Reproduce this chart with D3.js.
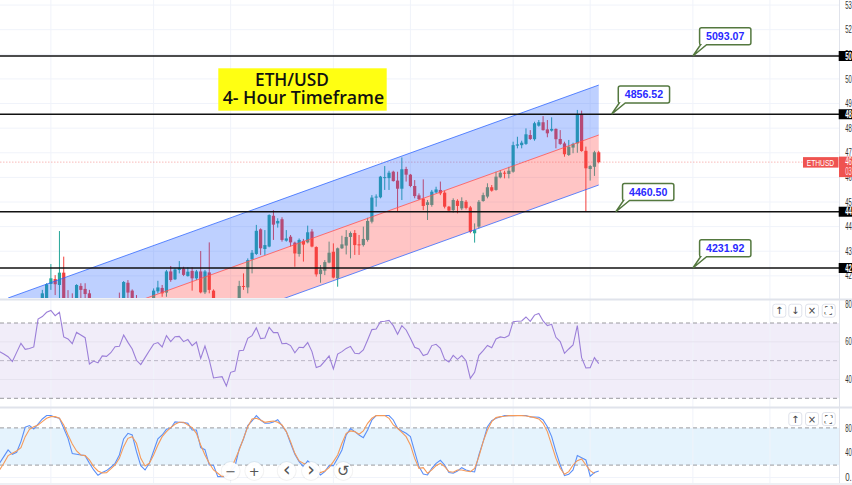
<!DOCTYPE html>
<html><head><meta charset="utf-8">
<script src="https://cdn.jsdelivr.net/npm/d3@7"></script>
<style>html,body{margin:0;padding:0;background:#fff;overflow:hidden}svg{display:block}text{font-family:"Liberation Sans",Arial,sans-serif}</style>
</head><body><svg id="c" width="852" height="485"></svg>
<script>
const opens=[4089,4089,4167,4187,4163,4213,4095,4095,4088,4159,4147,4129,4085,4075,4065,4080,4070,4090,4100,4082,4172,4140,4090,4070,4085,4075,4075,4137,4151,4132,4218,4186,4224,4229,4199,4220,4190,4218,4133,4214,4140,4075,4090,4070,4080,4090,4082,4159,4153,4267,4289,4389,4309,4319,4444,4413,4430,4343,4359,4335,4289,4342,4336,4380,4317,4207,4221,4254,4298,4190,4312,4323,4358,4374,4328,4325,4346,4420,4518,4519,4599,4597,4623,4587,4554,4634,4611,4565,4527,4514,4488,4488,4539,4549,4538,4481,4467,4505,4474,4501,4478,4373,4400,4504,4522,4560,4549,4600,4619,4614,4623,4729,4731,4736,4772,4755,4810,4824,4795,4790,4797,4756,4738,4691,4721,4738,4857,4708,4634,4643,4702];
const highs=[4143,4170,4248,4203,4382,4278,4142,4129,4166,4170,4170,4143,4098,4090,4085,4095,4095,4100,4132,4179,4183,4145,4122,4095,4098,4100,4149,4180,4163,4224,4240,4231,4260,4237,4235,4235,4224,4301,4224,4336,4145,4095,4100,4090,4098,4100,4180,4210,4271,4305,4407,4393,4386,4450,4467,4434,4438,4386,4366,4339,4352,4350,4404,4390,4320,4244,4264,4339,4332,4315,4363,4386,4380,4386,4366,4400,4436,4528,4531,4606,4646,4627,4627,4623,4681,4643,4614,4589,4535,4592,4508,4549,4562,4583,4546,4484,4515,4511,4519,4508,4484,4413,4508,4538,4576,4569,4623,4630,4627,4643,4745,4765,4749,4799,4792,4826,4833,4849,4833,4844,4799,4792,4745,4752,4741,4874,4871,4725,4650,4708,4708];
const lows=[4082,4075,4143,4122,4088,4068,4060,4060,4082,4102,4102,4082,4060,4055,4045,4060,4055,4070,4070,4075,4095,4065,4060,4050,4060,4065,4060,4129,4115,4115,4176,4183,4210,4199,4197,4140,4183,4129,4126,4129,4065,4055,4065,4050,4065,4075,4070,4143,4129,4210,4285,4285,4285,4316,4346,4396,4339,4339,4319,4237,4278,4258,4332,4316,4197,4172,4203,4251,4190,4156,4309,4287,4271,4285,4285,4319,4339,4413,4481,4515,4549,4549,4583,4461,4508,4583,4560,4515,4508,4467,4427,4481,4535,4528,4474,4461,4457,4454,4467,4470,4373,4335,4393,4501,4515,4542,4546,4596,4596,4596,4619,4718,4718,4732,4752,4749,4806,4790,4763,4786,4718,4732,4684,4687,4698,4700,4704,4461,4587,4606,4657];
const closes=[4129,4166,4190,4166,4213,4075,4070,4075,4163,4143,4126,4088,4075,4065,4080,4070,4090,4085,4080,4175,4132,4075,4070,4085,4075,4095,4140,4153,4129,4218,4183,4226,4231,4204,4217,4190,4218,4133,4218,4143,4075,4090,4070,4080,4090,4095,4159,4156,4264,4294,4383,4312,4325,4447,4408,4423,4346,4352,4336,4291,4346,4327,4377,4319,4206,4226,4256,4294,4193,4312,4328,4358,4374,4325,4325,4350,4423,4518,4522,4603,4601,4619,4585,4554,4633,4611,4565,4524,4512,4484,4499,4542,4551,4535,4481,4465,4508,4484,4504,4476,4379,4386,4501,4528,4560,4546,4603,4619,4616,4627,4731,4734,4741,4775,4756,4820,4824,4792,4779,4797,4755,4736,4694,4725,4736,4857,4707,4637,4646,4702,4662];

const rsi=[54.8,53.5,52.1,49.5,54.4,59.2,56.0,56.5,57.3,72.1,73.4,75.7,76.7,73.9,75.7,62.6,61.5,59.0,65.0,63.6,62.2,48.2,49.8,48.8,52.5,52.3,54.2,57.4,57.6,63.6,59.7,56.2,50.2,47.9,51.6,55.3,58.8,59.6,57.3,63.3,60.1,62.7,62.9,60.1,61.2,58.0,59.9,51.2,57.8,50.4,40.8,41.2,41.5,36.5,43.8,44.5,55.3,55.5,61.9,63.3,67.5,61.7,62.0,67.7,64.9,64.9,59.0,59.2,58.0,54.2,57.1,56.9,59.6,54.8,46.3,47.2,49.8,52.5,45.6,53.5,54.8,56.5,57.6,53.9,53.7,55.7,61.0,66.5,66.8,70.7,70.9,71.4,68.6,64.0,68.6,66.3,61.9,57.1,56.2,52.7,53.5,58.0,58.7,56.5,50.7,49.3,52.8,50.7,52.7,50.0,40.6,43.8,52.8,55.3,58.1,56.9,61.5,62.6,62.2,63.3,70.7,70.9,71.1,73.2,70.9,74.2,75.1,71.1,68.6,69.3,62.4,60.1,53.9,56.2,58.3,68.6,51.6,46.1,46.3,51.6,48.4];
const stochK=[22.9,33.7,44.4,37.4,40.6,57.9,81,83.7,78.3,86.3,94.4,100,100,97.1,95.5,79.4,63.2,38.5,37.4,36.4,35.3,22.9,12.2,3.6,7.9,11.1,16.5,22.9,36.4,62.2,71.3,68.6,41.7,19.1,12.2,22.9,42.8,62.2,68.6,77.7,79.4,89.6,89,88.5,87.4,76.7,76.7,48.2,44.9,20.2,19.7,1.4,1.4,1.4,9.5,17.5,46,62.2,83.7,91.2,99.8,92.8,87.4,87.4,89.6,93.3,83.7,74,55.2,37.4,25.6,17.5,26.7,20.2,12.2,4.1,9.5,19.1,19.1,30.9,44.4,68.6,78.8,74,68.6,64.3,76.7,92.8,100,100,100,100,92.8,79.4,75.1,71.3,65.9,41.7,17.5,5.7,4.1,14.8,22.9,27.7,20.2,7.9,6.8,10.5,15.9,12.2,10,8.9,36.4,57.9,82,91.7,95.5,97.6,99.8,99.8,99.8,100,100,100,97.6,97.6,97.1,92.8,82,65.9,41.7,20.2,3,5.2,12.2,35.3,32,28.3,2,7.9,10.5];
const stochD=[12.2,22.9,35.3,39,42.8,48.2,65.9,77.7,82,84.7,90.1,95.5,98.2,98.2,95.5,84.7,68.6,54.1,42.8,36.4,35.3,28.3,17.5,10.5,7.3,7.9,13.8,20.2,30.9,49.8,63.2,65.9,55.2,30.9,18.6,22.9,36.4,52.5,65.9,74,80.4,85.8,89,89,84.7,80.4,71.3,52.5,36.4,22.9,12.2,6.8,1.4,4.1,12.2,28.3,44.4,63.2,82,94.4,95.5,92.8,89,90.1,91.2,89,84.7,74,57.9,39,26.7,22.9,20.2,14.8,10.5,7.9,10.5,15.9,25.6,36.4,55.2,71.3,75.1,74,69.7,75.1,87.4,95.5,99.8,100,99.8,95.5,84.7,79.4,72.9,65.9,52.5,30.9,14.8,15.9,6.8,12.2,19.1,22.9,17.5,9.5,8.4,12.2,12.2,10.5,9.5,14.8,33.7,57.9,76.7,90.1,96.6,98.2,98.7,99.8,99.8,100,99.8,99.2,98.2,96.6,94.4,87.4,74,52.5,30.9,14.8,5.2,9.5,20.2,27.2,29.9,20.2,11.1,6.2];

const priceTicks=[5300,5200,5100,5000,4900,4800,4700,4600,4500,4400,4300,4200];
const priceTickLabels=["53","52","51","50","49","48","47","46","45","44","43","42"];
const levels=[5093.07,4856.52,4460.50,4231.92];
const levelLabels=["5093.07","4856.52","4460.50","4231.92"];
const levelAxisLabels=["50","48","44","42"];
const calloutIndex=[152,133,134,152];
const gridIndex=[2,26,44,68,86,110,128,152,170];
const channelIndex=[-8,130];
const channelTop=[4110,4975];
const channelMid=[3907,4772];
const channelLow=[3704,4569];
const lastPrice=4662;
const lastLabels=["46","03"];
const rsiTicks=[80,60,40];
const rsiLevels=[70,50,30];
const stochTicks=[80,40,0];
const stochTickLabels=["80","40","0."];
const stochLevels=[80,20];
const titleLines=["ETH/USD","4- Hour Timeframe"];

const svg=d3.select("#c");
const axisX=839;
const x=d3.scaleLinear().domain([0,130]).range([42.33,598.73]);
const yP=d3.scaleLinear().domain([5093.07,4231.92]).range([56,268]);
const yR=d3.scaleLinear().domain([70,30]).range([323,398.3]);
const yS=d3.scaleLinear().domain([100,0]).range([415.5,477.5]);
const grid="#f0f3fa",sep="#e0e3eb";
const defs=svg.append("defs");
defs.append("clipPath").attr("id","main").append("rect").attr("width",axisX).attr("height",298);
defs.append("clipPath").attr("id","low").append("rect").attr("y",408).attr("width",axisX).attr("height",75);

svg.append("rect").attr("x",0).attr("width",axisX).attr("y",yR(70)).attr("height",yR(30)-yR(70)).attr("fill","#f1edf9");
svg.append("rect").attr("x",0).attr("width",axisX).attr("y",yS(80)).attr("height",yS(20)-yS(80)).attr("fill","#e5f3fd");

svg.append("g").selectAll("line").data(gridIndex).join("line")
 .attr("x1",d=>x(d)).attr("x2",d=>x(d)).attr("y1",0).attr("y2",483).attr("stroke",grid);
svg.append("g").selectAll("line").data(priceTicks).join("line")
 .attr("x1",0).attr("x2",axisX).attr("y1",d=>yP(d)).attr("y2",d=>yP(d)).attr("stroke",grid);
svg.append("g").selectAll("line").data([60,40]).join("line")
 .attr("x1",0).attr("x2",axisX).attr("y1",d=>yR(d)).attr("y2",d=>yR(d)).attr("stroke","#e6e3ef");
svg.append("line").attr("x1",0).attr("x2",axisX).attr("y1",yS(0)).attr("y2",yS(0)).attr("stroke",grid);

svg.append("line").attr("x1",0).attr("x2",803).attr("y1",yP(lastPrice)).attr("y2",yP(lastPrice))
 .attr("stroke","#ef5350").attr("stroke-opacity",.4).attr("stroke-dasharray","1.5 1.5");

const main=svg.append("g").attr("clip-path","url(#main)");
const up="#26a69a",dn="#f23f3c";
const cand=main.append("g").selectAll("g").data(d3.range(opens.length)).join("g");
cand.append("line").attr("x1",i=>x(i)).attr("x2",i=>x(i)).attr("y1",i=>yP(highs[i])).attr("y2",i=>yP(lows[i]))
 .attr("stroke",i=>closes[i]>=opens[i]?up:dn).attr("stroke-width",1);
cand.append("rect").attr("x",i=>x(i)-1.6).attr("width",3.2)
 .attr("y",i=>yP(Math.max(opens[i],closes[i])))
 .attr("height",i=>Math.max(1,Math.abs(yP(opens[i])-yP(closes[i]))))
 .attr("fill",i=>closes[i]>=opens[i]?up:dn);

const pts=(a,b)=>[[x(channelIndex[0]),yP(a[0])],[x(channelIndex[1]),yP(a[1])],[x(channelIndex[1]),yP(b[1])],[x(channelIndex[0]),yP(b[0])]];
main.append("polygon").attr("points",pts(channelTop,channelMid).join(" ")).attr("fill","#2962ff").attr("fill-opacity",.3);
main.append("polygon").attr("points",pts(channelMid,channelLow).join(" ")).attr("fill","#ff4a4a").attr("fill-opacity",.32);
const ln=d3.line().x((d,i)=>x(channelIndex[i])).y(d=>yP(d));
main.append("path").attr("d",ln(channelTop)).attr("fill","none").attr("stroke","#2962ff").attr("stroke-opacity",.75);
main.append("path").attr("d",ln(channelMid)).attr("fill","none").attr("stroke","#ff5252").attr("stroke-opacity",.8);
main.append("path").attr("d",ln(channelLow)).attr("fill","none").attr("stroke","#2962ff").attr("stroke-opacity",.75);

svg.append("g").selectAll("line").data(levels).join("line")
 .attr("x1",0).attr("x2",axisX).attr("y1",d=>yP(d)).attr("y2",d=>yP(d)).attr("stroke","#111").attr("stroke-width",1.6);

svg.append("rect").attr("x",218.3).attr("y",68.3).attr("width",168.4).attr("height",42.4).attr("fill","#ffff12");
const tt=(tx,ty,s,len)=>svg.append("text").attr("x",tx).attr("y",ty).text(s).attr("font-size",17.5).attr("font-weight",600).attr("fill","#111").attr("textLength",len).attr("lengthAdjust","spacingAndGlyphs").style("font-family","'Open Sans'");
tt(255,85.7,titleLines[0],74);
tt(222.7,104.3,titleLines[1],161.5);

levels.forEach((l,k)=>{
 const ax=x(calloutIndex[k]),ay=yP(l);
 const bx=ax+6.7,by=ay-28.3,w=51.3,h=17;
 svg.append("path").attr("d",`M${bx+2},${by} h${w-4} q2,0 2,2 v${h-4} q0,2 -2,2 H${bx+7} L${ax},${ay} L${bx+1},${by+h} q-1,0 -1,-2 V${by+2} q0,-2 2,-2 Z`)
  .attr("fill","#fff").attr("stroke","#54783f").attr("stroke-width",1.5);
 svg.append("text").attr("x",bx+w/2).attr("y",by+12.3).attr("text-anchor","middle").text(levelLabels[k])
  .attr("font-size",10.6).attr("font-weight",700).attr("fill","#2a2aff");
});

[299.5,407.5,484].forEach(y=>svg.append("line").attr("x1",0).attr("x2",852).attr("y1",y).attr("y2",y).attr("stroke",y===484?"#eef0f4":sep).attr("stroke-width",2));
svg.append("line").attr("x1",axisX+.5).attr("x2",axisX+.5).attr("y1",0).attr("y2",483).attr("stroke",sep);

svg.append("g").selectAll("line").data(rsiLevels).join("line")
 .attr("x1",0).attr("x2",axisX).attr("y1",d=>yR(d)).attr("y2",d=>yR(d))
 .attr("stroke",d=>d===50?"#bbb6c6":"#9a9a9f").attr("stroke-dasharray","4 3");
const li=d3.line().x((d,i)=>x(i-10));
svg.append("path").attr("d",li.y(d=>yR(d))(rsi)).attr("fill","none").attr("stroke","#9b7fd8").attr("stroke-width",1.1);

svg.append("g").selectAll("line").data(stochLevels).join("line")
 .attr("x1",0).attr("x2",axisX).attr("y1",d=>yS(d)).attr("y2",d=>yS(d))
 .attr("stroke","#9a9a9f").attr("stroke-dasharray","4 3");
const lowG=svg.append("g").attr("clip-path","url(#low)");
lowG.append("path").attr("d",li.y(d=>yS(d))(stochK)).attr("fill","none").attr("stroke","#5b8ff7").attr("stroke-width",1.1);
lowG.append("path").attr("d",li.y(d=>yS(d))(stochD)).attr("fill","none").attr("stroke","#f59a5a").attr("stroke-width",1.1);

const tx=845.2;
const lab=(y,t,c="#333",w=400)=>svg.append("text").attr("x",tx).attr("y",y+3.6).text(t).attr("font-size",10).attr("fill",c).attr("font-weight",w).attr("textLength",t.length*3.3).attr("lengthAdjust","spacingAndGlyphs");
priceTicks.forEach((p,k)=>lab(yP(p),priceTickLabels[k]));
rsiTicks.forEach(v=>lab(yR(v),String(v)));
stochTicks.forEach((v,k)=>lab(yS(v),stochTickLabels[k]));
levels.forEach((l,k)=>{
 svg.append("rect").attr("x",axisX-.3).attr("y",yP(l)-5).attr("width",13.3).attr("height",10).attr("fill","#000");
 lab(yP(l),levelAxisLabels[k],"#fff",700);
});
const yL=yP(lastPrice);
svg.append("rect").attr("x",803).attr("y",yL-5).attr("width",35.5).attr("height",10.5).attr("fill","#ef5350");
svg.append("text").attr("x",806.7).attr("y",yL+3.6).text("ETHUSD").attr("font-size",9).attr("fill","#fff").attr("textLength",27.5).attr("lengthAdjust","spacingAndGlyphs");
svg.append("rect").attr("x",axisX).attr("y",yL-5.5).attr("width",13).attr("height",20.5).attr("fill","#ef5350");
lab(yL-.5,lastLabels[0],"#fff");
lab(yL+9.3,lastLabels[1],"#fdd");

const btn=(cx,cy,t)=>{
 svg.append("rect").attr("x",cx-6.5).attr("y",cy-6.5).attr("width",13).attr("height",13).attr("rx",2.5).attr("fill","#fff").attr("stroke","#e0e3eb");
 svg.append("text").attr("x",cx).attr("y",cy+3.5).attr("text-anchor","middle").text(t).attr("font-size",10).attr("fill","#444").style("font-family","'DejaVu Sans'");
};
[[779.3,"↑"],[795.3,"↓"],[812,"×"],[828.7,"⛶"]].forEach(([c,t])=>btn(c,310.7,t));
[[795.3,"↑"],[812,"×"],[828.7,"⛶"]].forEach(([c,t])=>btn(c,419,t));

const nav=svg.append("g");
[[230.7,"−",13,4.6],[254.3,"+",13,4.6],[286.7,"‹",19,5.2],[311,"›",19,5.2],[343.3,"↺",15,5.2]].forEach(([c,t,f,dy])=>{
 nav.append("circle").attr("cx",c).attr("cy",471).attr("r",10).attr("fill","#000").attr("fill-opacity",.05);
 nav.append("circle").attr("cx",c).attr("cy",471).attr("r",9).attr("fill","#fff").attr("fill-opacity",.95);
 nav.append("text").attr("x",c).attr("y",471+dy).attr("text-anchor","middle").text(t).attr("font-size",f).attr("fill","#555").style("font-family","'DejaVu Sans'");
});
</script></body></html>
